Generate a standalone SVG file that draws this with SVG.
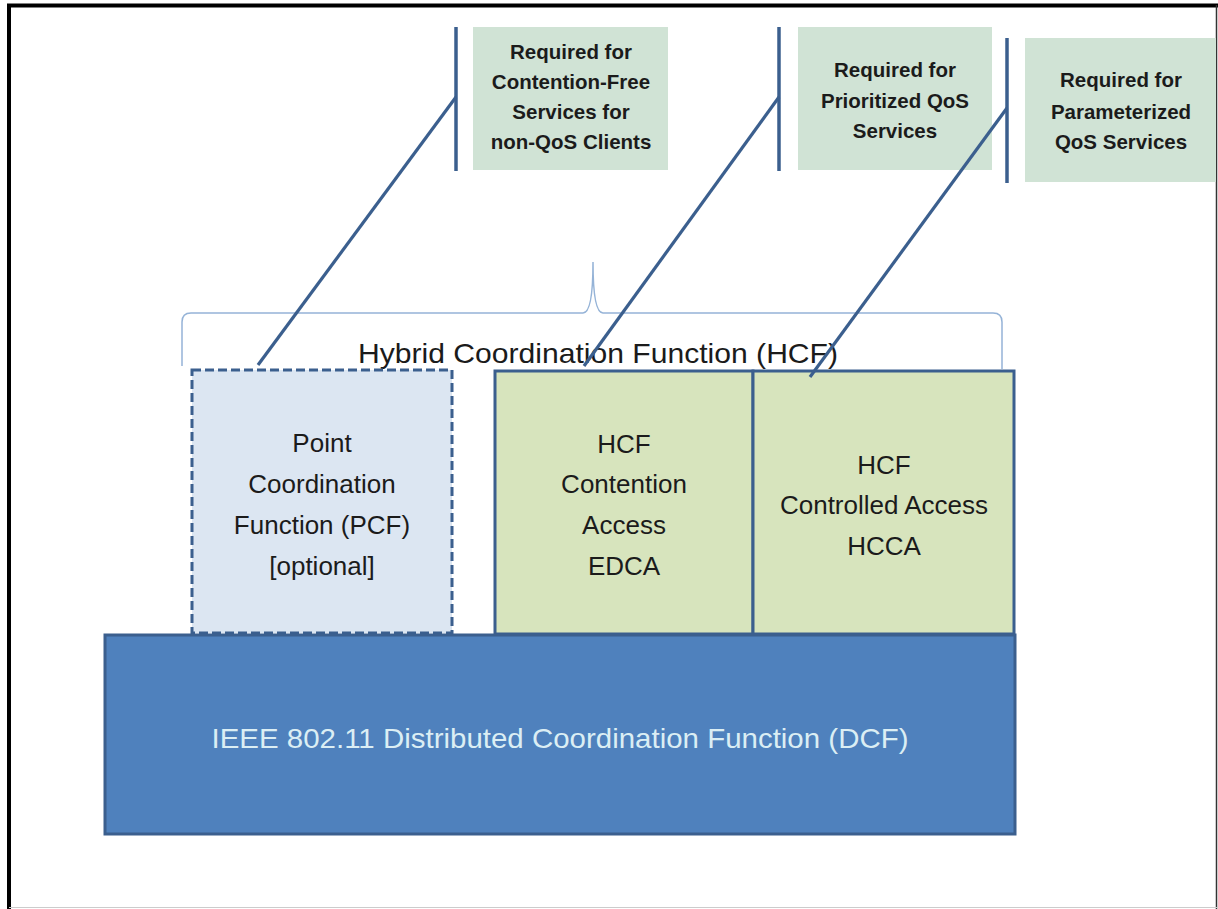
<svg xmlns="http://www.w3.org/2000/svg" width="1218" height="909" viewBox="0 0 1218 909">
<style>
.callout{fill:#d0e3d5;stroke:none}
.bar{stroke:#3b5f8e;stroke-width:3.5;fill:none}
.conn{stroke:#3b5f8e;stroke-width:3.2;fill:none}
.ct{font-family:"Liberation Sans",Arial,sans-serif;font-weight:bold;font-size:20.5px;fill:#1b1b1b;text-anchor:middle}
.bt{font-family:"Liberation Sans",Arial,sans-serif;font-size:26px;fill:#1b1b1b;text-anchor:middle}
.box{stroke:#3b5f8e;stroke-width:3}
</style>
<rect x="0" y="0" width="1218" height="909" fill="#ffffff"/>
<g id="frame">
<polyline points="9,909 9,5.5 1218,5.5" fill="none" stroke="#000" stroke-width="4"/>
<line x1="1216.5" y1="5" x2="1216.5" y2="909" stroke="#333" stroke-width="1.5"/>
<line x1="9" y1="907.5" x2="1218" y2="907.5" stroke="#ccc" stroke-width="1"/>
</g>
<g id="callout-contention-free">
<line class="bar" x1="456" y1="27" x2="456" y2="171"/>
<rect class="callout" x="473" y="27" width="195" height="143"/>
<text class="ct" x="571" y="59">Required for</text>
<text class="ct" x="571" y="89">Contention-Free</text>
<text class="ct" x="571" y="119">Services for</text>
<text class="ct" x="571" y="149">non-QoS Clients</text>
</g>
<g id="callout-prioritized">
<line class="bar" x1="779" y1="27" x2="779" y2="171"/>
<rect class="callout" x="798" y="27" width="194" height="143"/>
<text class="ct" x="895" y="77">Required for</text>
<text class="ct" x="895" y="108">Prioritized QoS</text>
<text class="ct" x="895" y="138">Services</text>
</g>
<g id="callout-parameterized">
<line class="bar" x1="1007" y1="38" x2="1007" y2="183"/>
<rect class="callout" x="1025" y="38" width="191" height="144"/>
<text class="ct" x="1121" y="87">Required for</text>
<text class="ct" x="1121" y="119">Parameterized</text>
<text class="ct" x="1121" y="149">QoS Services</text>
</g>
<g id="hcf-brace">
<path d="M182,366 L182,322 Q182,313 191,313 L583,313 Q593,313 593,262 Q593,313 603,313 L993,313 Q1002,313 1002,322 L1002,369" fill="none" stroke="#95b3d7" stroke-width="1.5"/>
<text x="598" y="363" font-family="Liberation Sans, Arial, sans-serif" font-size="28" fill="#1b1b1b" text-anchor="middle" textLength="480" lengthAdjust="spacingAndGlyphs">Hybrid Coordination Function (HCF)</text>
</g>
<g id="pcf">
<rect x="192" y="370" width="260" height="263" fill="#dce6f2" stroke="#3b5f8e" stroke-width="3" stroke-dasharray="9,4"/>
<text class="bt" x="322" y="452">Point</text>
<text class="bt" x="322" y="493">Coordination</text>
<text class="bt" x="322" y="534">Function (PCF)</text>
<text class="bt" x="322" y="575">[optional]</text>
</g>
<g id="edca">
<rect class="box" x="495" y="371" width="258" height="263" fill="#d7e4bd"/>
<text class="bt" x="624" y="453">HCF</text>
<text class="bt" x="624" y="493">Contention</text>
<text class="bt" x="624" y="534">Access</text>
<text class="bt" x="624" y="575">EDCA</text>
</g>
<g id="hcca">
<rect class="box" x="753" y="371" width="261" height="263" fill="#d7e4bd"/>
<text class="bt" x="884" y="474">HCF</text>
<text class="bt" x="884" y="514">Controlled Access</text>
<text class="bt" x="884" y="555">HCCA</text>
</g>
<g id="dcf">
<rect class="box" x="105" y="635" width="910" height="199" fill="#4f81bd"/>
<text x="560" y="748" font-family="Liberation Sans, Arial, sans-serif" font-size="28" fill="#dbeef4" text-anchor="middle" textLength="697" lengthAdjust="spacingAndGlyphs">IEEE 802.11 Distributed Coordination Function  (DCF)</text>
</g>
<g id="connectors">
<line class="conn" x1="258" y1="365" x2="456" y2="97"/>
<line class="conn" x1="584" y1="366" x2="779" y2="97"/>
<line class="conn" x1="810" y1="377" x2="1007" y2="108"/>
</g>
</svg>
